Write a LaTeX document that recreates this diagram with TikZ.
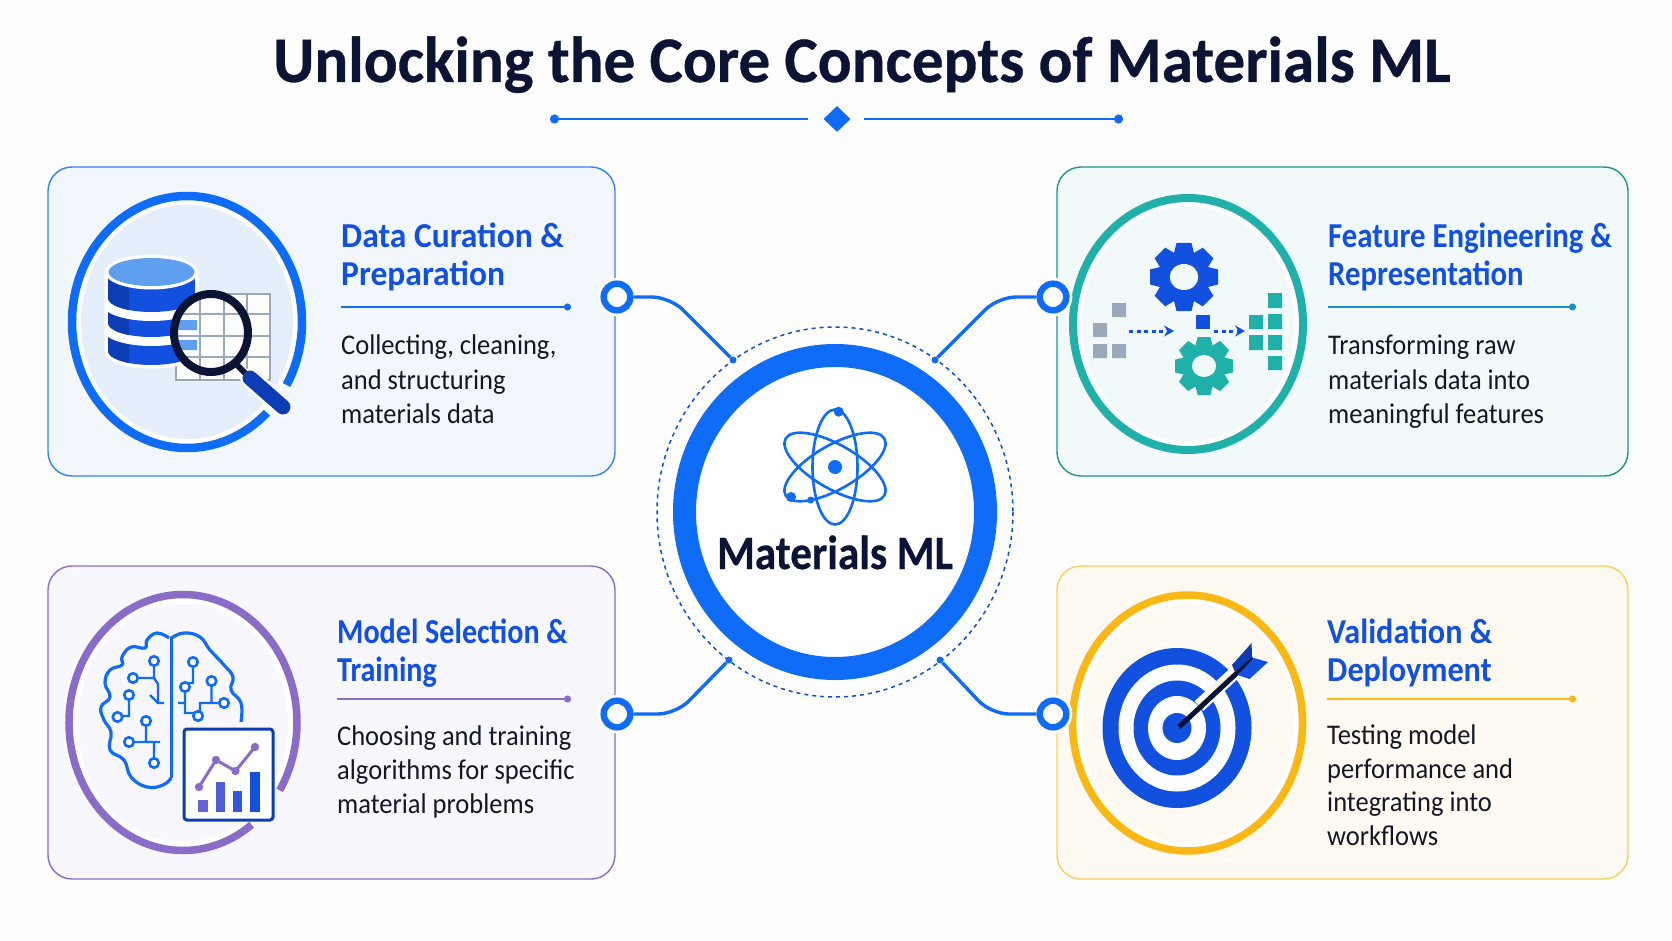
\documentclass[tikz,border=0pt]{standalone}
\usepackage{fontspec}
\setmainfont{Carlito}
\usetikzlibrary{arrows.meta,shapes.geometric}

\definecolor{mainblue}{HTML}{0E6CF7}
\definecolor{headblue}{HTML}{1250E0}
\definecolor{darkblue}{HTML}{0D3DB4}
\definecolor{navy}{HTML}{0B1434}
\definecolor{inktxt}{HTML}{141824}
\definecolor{teal}{HTML}{1FB0AA}
\definecolor{violet}{HTML}{8A6CC8}
\definecolor{amber}{HTML}{FBB815}
\definecolor{gridgrey}{HTML}{9AA8BB}
\definecolor{skyfill}{HTML}{5F9FF0}
\definecolor{pagefill}{HTML}{FEFEFE}
\definecolor{datafill}{HTML}{F2F7FE}
\definecolor{datadisc}{HTML}{E5EFFB}
\definecolor{featfill}{HTML}{F2F9FA}
\definecolor{modelfill}{HTML}{F7F7FD}
\definecolor{validfill}{HTML}{FEFAF1}

\tikzset{
  card/.style={rounded corners=24pt,line width=1.4pt},
  headtxt/.style={anchor=north west,inner sep=0pt,align=left,text=headblue,font=\fontsize{35}{37.5}\selectfont\bfseries\addfontfeature{FakeStretch=#1}},
  bodytxt/.style={anchor=north west,inner sep=0pt,align=left,text=inktxt,font=\fontsize{28.5}{#1}\selectfont\addfontfeature{FakeStretch=0.93}},
  portring/.style={circle,draw=mainblue,fill=white,line width=6.5pt,minimum size=26.6pt,inner sep=0pt,preaction={draw=white,line width=12pt}},
  hubdot/.style={circle,fill=mainblue,minimum size=7pt,inner sep=0pt},
  wire/.style={draw=mainblue,line width=3.4pt,rounded corners=18pt},
  brainnode/.style={circle,draw=mainblue,fill=white,line width=2.6pt,minimum size=9.5pt,inner sep=0pt},
}

% gear: x, y, outer radius, hole radius, colour, hole colour
\newcommand{\gearicon}[6]{
  \foreach \ang in {0,45,...,315}
    \fill[#5,shift={(#1,#2)},rotate=\ang] (-0.32*#3,-0.6*#3) -- (-0.22*#3,-#3) -- (0.22*#3,-#3) -- (0.32*#3,-0.6*#3) -- cycle;
  \fill[#5] (#1,#2) circle (0.76*#3);
  \fill[#6] (#1,#2) ellipse[x radius=#4*1.1,y radius=#4];
}
% database disc: y of the top, y of the side bottom
\newcommand{\dbdisc}[2]{
  \begin{scope}
    \clip (108,#1) -- (108,#2) arc[start angle=180,end angle=0,x radius=43.5,y radius=14] -- (195,#1) -- cycle;
    \fill[headblue] (108,#1) rectangle (195,#2+20);
    \fill[darkblue] (108,#1) rectangle (129,#2+20);
  \end{scope}
}
% white band under a database disc
\newcommand{\dbband}[1]{
  \begin{scope}
    \clip (108,#1-12) rectangle (195,#1+30);
    \draw[white,line width=18pt] (108,#1) arc[start angle=180,end angle=0,x radius=43.5,y radius=14];
  \end{scope}
}

\begin{document}
\begin{tikzpicture}[x=1pt,y=-1pt]
  \fill[pagefill] (0,0) rectangle (1672,941);
  \useasboundingbox (0,0) rectangle (1672,941);

  % title
  \node[anchor=base,inner sep=0pt,text=navy,font=\fontsize{65}{70}\selectfont\bfseries\addfontfeature{FakeStretch=0.97,FakeBold=0.5}] (title) at (862,82) {Unlocking the Core Concepts of Materials ML};
  \node[diamond,fill=mainblue,minimum width=27pt,minimum height=26pt,inner sep=0pt] (gem) at (837,119) {};
  \coordinate (deL) at (550,119);
  \coordinate (deR) at (1123,119);
  \draw[draw=mainblue,line width=2.6pt,{Circle[length=9pt]}-] (deL) -- (808,119);
  \draw[draw=mainblue,line width=2.6pt,-{Circle[length=9pt]}] (864,119) -- (deR);

  % cards
  \draw[card,draw=mainblue!85,fill=datafill] (48,167) rectangle (615,476);
  \draw[card,draw=teal!85!black,fill=featfill] (1057,167) rectangle (1628,476);
  \draw[card,draw=violet,fill=modelfill] (48,566) rectangle (615,879);
  \draw[card,draw=amber!70,fill=validfill] (1057,566) rectangle (1628,879);

  % data card
  \fill[white] (187,322) ellipse[x radius=112,y radius=123];
  \fill[datadisc] (187,322) ellipse[x radius=106,y radius=117];
  \draw[mainblue,line width=8.5pt] (187,322) ++(46:115 and 126) arc[start angle=46,end angle=390,x radius=115,y radius=126];
  \fill[white] (176,294) rectangle (270,380);
  \draw[gridgrey,line width=2pt] (176,294) rectangle (270,380);
  \draw[gridgrey,line width=2pt] (200,294) -- (200,380) (224,294) -- (224,380) (247,294) -- (247,380) (176,314) -- (270,314) (176,336) -- (270,336) (176,357) -- (270,357);
  \draw[white,line width=7pt,line join=round] (108,272) -- (108,351) arc[start angle=180,end angle=0,x radius=43.5,y radius=14] -- (195,272);
  \dbdisc{272}{351}
  \dbband{323}
  \dbdisc{272}{323}
  \dbband{298}
  \dbdisc{272}{298}
  \fill[white] (151.5,272) ellipse[x radius=46.5,y radius=17.5];
  \fill[skyfill] (151.5,272) ellipse[x radius=43,y radius=14];
  \begin{scope}
    \clip (211,333) ellipse[x radius=37,y radius=39];
    \fill[white] (170,290) rectangle (255,380);
    \fill[skyfill] (176,320) rectangle (197,330) (176,340) rectangle (197,350);
    \draw[gridgrey,line width=2pt] (200,294) -- (200,380) (224,294) -- (224,380) (247,294) -- (247,380) (176,314) -- (270,314) (176,336) -- (270,336) (176,357) -- (270,357);
  \end{scope}
  \draw[white,line width=20pt,line cap=round] (250,378) -- (283,407);
  \draw[navy,line width=6pt] (236,364) -- (250,378);
  \draw[darkblue,line width=15pt,line cap=round] (250,378) -- (283,407);
  \draw[navy,line width=8pt] (211,333) ellipse[x radius=37,y radius=39];
  \node[headtxt=0.958] (hdata) at (341,223) {Data Curation \&\\Preparation};
  \draw[draw=mainblue,line width=1.8pt,-{Circle[length=7pt]}] (341,307) -- (571,307);
  \node[bodytxt=34.5] (bdata) at (341,335) {Collecting, cleaning,\\and structuring\\materials data};

  % feature card
  \fill[white] (1188,324) ellipse[x radius=111,y radius=122];
  \fill[featfill] (1188,324) ellipse[x radius=106,y radius=117];
  \draw[teal,line width=8pt] (1188,324) ellipse[x radius=115,y radius=126];
  \gearicon{1184}{277}{34}{13}{headblue}{featfill}
  \gearicon{1204}{366}{29}{11}{teal}{featfill}
  \fill[gridgrey] (1112,303) rectangle +(14,14) (1093,323) rectangle +(14,14) (1093,344) rectangle +(14,14) (1112,344) rectangle +(14,14);
  \fill[headblue] (1196,315) rectangle +(14,14);
  \fill[teal] (1268,293) rectangle +(14,15) (1268,314) rectangle +(14,15) (1268,335) rectangle +(14,15) (1268,356) rectangle +(14,14) (1249,315) rectangle +(14,14) (1249,335) rectangle +(14,15);
  \coordinate (fa) at (1129,331);
  \coordinate (fb) at (1174,331);
  \coordinate (fc) at (1214,331);
  \coordinate (fd) at (1245,331);
  \draw[headblue,line width=3pt,dash pattern=on 4pt off 3.5pt,-{Stealth[length=10pt,width=11pt]}] (fa) -- (fb);
  \draw[headblue,line width=3pt,dash pattern=on 4pt off 3.5pt,-{Stealth[length=10pt,width=11pt]}] (fc) -- (fd);
  \node[headtxt=0.88] (hfeat) at (1328,223) {Feature Engineering \&\\Representation};
  \draw[draw=teal!50!mainblue,line width=1.8pt,-{Circle[length=7pt]}] (1328,307) -- (1576,307);
  \node[bodytxt=34.5] (bfeat) at (1328,335) {Transforming raw\\materials data into\\meaningful features};

  % model card
  \fill[white] (183,722.5) ellipse[x radius=110,y radius=124];
  \fill[modelfill] (183,722.5) ellipse[x radius=105,y radius=119];
  \draw[violet,line width=7.5pt] (183,722.5) ++(53:114 and 128) arc[start angle=53,end angle=392,x radius=114,y radius=128];
  \draw[mainblue,line width=3.2pt,line join=round] plot[smooth,tension=.75] coordinates {(171,778) (163,785) (147,787) (131,777) (124,760) (110,750) (111,732) (104,720) (101,707) (110,697) (105,683) (110,670) (122,665) (122,657) (131,647) (145,648) (147,640) (157,633) (169,638)};
  \draw[mainblue,line width=3.2pt,line join=round] plot[smooth,tension=.75] coordinates {(171.5,638) (184,633) (200,637) (210,650) (224,665) (233,677) (231,690) (241,703) (241,722)};
  \draw[mainblue,line width=3.2pt] (171.5,637) -- (171.5,778);
  \draw[mainblue,line width=2.4pt] (154,661) -- (154,678) -- (128,678) (154,678) -- (158,684) -- (158,703) -- (164,703) (150,695) -- (158,703)
    (129,695) -- (129,716) -- (117.5,716) (146,721) -- (146,742) (129,742) -- (160,742) (154,742) -- (154,763)
    (193,662) -- (193,683) -- (185,683) (185,687) -- (185,713) -- (198,713) (178,703) -- (185,703)
    (211.5,681) -- (211.5,703) (224,703) -- (200,703) -- (200,712);
  \foreach \bx/\by in {154/661,133/678,129/695,117.5/717,146/721,129/742,154/763,193/662,185/687,198/716,211.5/681,224/703}
    \node[brainnode] at (\bx,\by) {};
  \draw[darkblue,line width=3pt,fill=white,rounded corners=3pt] (184,729) rectangle (273,820);
  \fill[violet!70!headblue] (198,800) rectangle (208,812);
  \fill[violet!50!headblue] (215.5,782) rectangle (224.5,812);
  \fill[violet!25!headblue] (232.5,791) rectangle (242,812);
  \fill[headblue] (250,772) rectangle (259.5,812);
  \draw[violet,line width=3pt] (199,787) -- (216,760) -- (235.5,771) -- (255,747);
  \foreach \bx/\by in {199/787,216/760,235.5/771,255/747}
    \fill[violet] (\bx,\by) circle (4.2);
  \node[headtxt=0.86] (hmodel) at (337,619) {Model Selection \&\\Training};
  \draw[draw=violet,line width=1.8pt,-{Circle[length=7pt]}] (337,699) -- (571,699);
  \node[bodytxt=34] (bmodel) at (337,726) {Choosing and training\\algorithms for specific\\material problems};

  % validation card
  \fill[white] (1187.5,723) ellipse[x radius=111,y radius=124];
  \fill[validfill] (1187.5,723) ellipse[x radius=106,y radius=119];
  \draw[amber,line width=7.5pt] (1187.5,723) ellipse[x radius=115,y radius=128];
  \fill[headblue] (1177,728) ellipse[x radius=74.5,y radius=80];
  \fill[white] (1177,728) ellipse[x radius=58.5,y radius=63.5];
  \fill[headblue] (1177,728) ellipse[x radius=43.5,y radius=47.5];
  \fill[white] (1177,728) ellipse[x radius=29,y radius=32];
  \fill[headblue] (1177,728) ellipse[x radius=14.5,y radius=15];
  \begin{scope}
    \clip (1177,728) ellipse[x radius=76,y radius=82];
    \draw[validfill,line width=13pt] (1199,706) -- (1270,640);
  \end{scope}
  \draw[navy,line width=5pt] (1179,727) -- (1253,658);
  \fill[darkblue] (1251.6,643) -- (1252,657) -- (1235,672) -- (1232,665) -- cycle;
  \fill[headblue] (1268,662) -- (1254,658) -- (1237.5,675) -- (1249.6,679) -- cycle;
  \node[headtxt=0.92] (hvalid) at (1327,619) {Validation \&\\Deployment};
  \draw[draw=amber,line width=1.8pt,-{Circle[length=7pt]}] (1327,699) -- (1576,699);
  \node[bodytxt=33.5] (bvalid) at (1327,725) {Testing model\\performance and\\integrating into\\workflows};

  % hub
  \draw[mainblue,line width=23pt,fill=white] (835,512) ellipse[x radius=150.5,y radius=156.5];
  \draw[darkblue!60!mainblue,line width=1.5pt,dash pattern=on 4pt off 4pt] (835,512) ellipse[x radius=178,y radius=185];
  \begin{scope}[shift={(835,467)}]
    \draw[mainblue,line width=2.6pt] (0,0) ellipse[x radius=22.5,y radius=57.5];
    \draw[mainblue,line width=2.6pt,rotate=30] (0,0) ellipse[x radius=57,y radius=22];
    \draw[mainblue,line width=2.6pt,rotate=-30] (0,0) ellipse[x radius=57,y radius=22];
    \fill[mainblue] (0,0) circle (7);
    \fill[mainblue] (3.7,-55.3) circle (5);
    \fill[mainblue] (-44,30) circle (5);
    \fill[mainblue] (-24.3,33) circle (3.5);
  \end{scope}
  \node[anchor=base,inner sep=0pt,text=navy,font=\fontsize{48}{50}\selectfont\bfseries\addfontfeature{FakeStretch=0.9,FakeBold=0.4}] (hublabel) at (835,569) {Materials ML};

  % connectors
  \node[portring] (pdata) at (617,297) {};
  \node[portring] (pfeat) at (1053,297) {};
  \node[portring] (pmodel) at (617,714) {};
  \node[portring] (pvalid) at (1053,714) {};
  \node[hubdot] (hdatap) at (733,360) {};
  \node[hubdot] (hfeatp) at (935,360) {};
  \node[hubdot] (hmodelp) at (729,660) {};
  \node[hubdot] (hvalidp) at (940,660) {};
  \coordinate (kdata) at (670,297);
  \coordinate (kfeat) at (998,297);
  \coordinate (kmodel) at (676,714);
  \coordinate (kvalid) at (991,714);
  \draw[wire] (pdata) -- (kdata) -- (hdatap);
  \draw[wire] (pfeat) -- (kfeat) -- (hfeatp);
  \draw[wire] (pmodel) -- (kmodel) -- (hmodelp);
  \draw[wire] (pvalid) -- (kvalid) -- (hvalidp);
\end{tikzpicture}
\end{document}
